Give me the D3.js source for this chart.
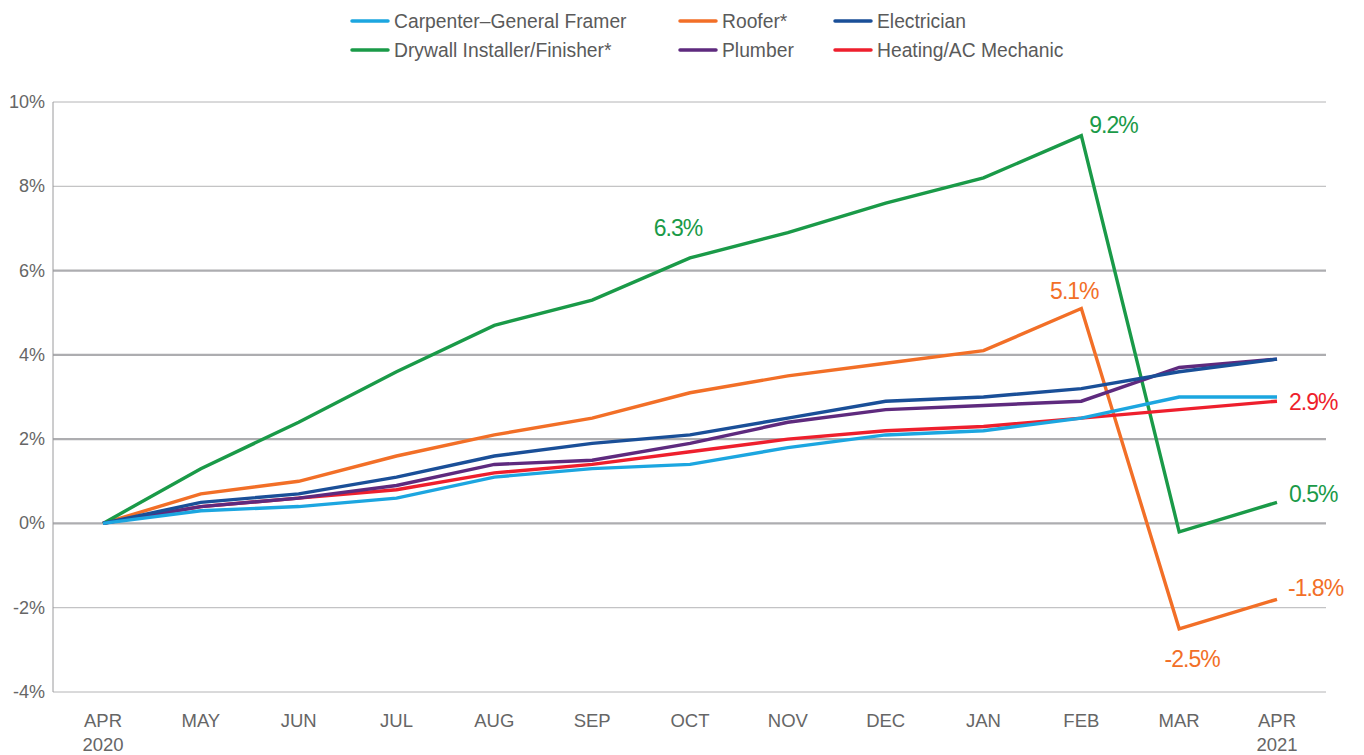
<!DOCTYPE html>
<html>
<head>
<meta charset="utf-8">
<script src="https://cdn.jsdelivr.net/npm/d3@7"></script>
<style>
  body { margin: 0; background: #fff; }
  text { font-family: "Liberation Sans", Arial, sans-serif; }
</style>
</head>
<body>
<script>
const months = ['APR', 'MAY', 'JUN', 'JUL', 'AUG', 'SEP', 'OCT', 'NOV', 'DEC', 'JAN', 'FEB', 'MAR', 'APR2'];
const monthLabels = ['APR', 'MAY', 'JUN', 'JUL', 'AUG', 'SEP', 'OCT', 'NOV', 'DEC', 'JAN', 'FEB', 'MAR', 'APR'];
const yearLabels = { 0: '2020', 12: '2021' };
const yTicks = [-4, -2, 0, 2, 4, 6, 8, 10];

const carpenter = [0, 0.3, 0.4, 0.6, 1.1, 1.3, 1.4, 1.8, 2.1, 2.2, 2.5, 3.0, 3.0];
const roofer = [0, 0.7, 1.0, 1.6, 2.1, 2.5, 3.1, 3.5, 3.8, 4.1, 5.1, -2.5, -1.8];
const electrician = [0, 0.5, 0.7, 1.1, 1.6, 1.9, 2.1, 2.5, 2.9, 3.0, 3.2, 3.6, 3.9];
const drywall = [0, 1.3, 2.4, 3.6, 4.7, 5.3, 6.3, 6.9, 7.6, 8.2, 9.2, -0.2, 0.5];
const plumber = [0, 0.4, 0.6, 0.9, 1.4, 1.5, 1.9, 2.4, 2.7, 2.8, 2.9, 3.7, 3.9];
const heating = [0, 0.4, 0.6, 0.8, 1.2, 1.4, 1.7, 2.0, 2.2, 2.3, 2.5, 2.7, 2.9];

const series = [
  { name: 'Carpenter–General Framer', values: carpenter, color: '#1ca6e0' },
  { name: 'Roofer*', values: roofer, color: '#f26f27' },
  { name: 'Electrician', values: electrician, color: '#1a4f98' },
  { name: 'Drywall Installer/Finisher*', values: drywall, color: '#1a9a48' },
  { name: 'Plumber', values: plumber, color: '#5e2a7e' },
  { name: 'Heating/AC Mechanic', values: heating, color: '#ee1f2d' }
];

// draw order (bottom to top)
const drawOrder = ['Roofer*', 'Drywall Installer/Finisher*', 'Heating/AC Mechanic', 'Plumber', 'Electrician', 'Carpenter–General Framer'];

const annotations = [
  { s: 'Drywall Installer/Finisher*', i: 6, text: '6.3%', dx: -12, dy: -22, anchor: 'middle' },
  { s: 'Drywall Installer/Finisher*', i: 10, text: '9.2%', dx: 8, dy: -3, anchor: 'start' },
  { s: 'Drywall Installer/Finisher*', i: 12, text: '0.5%', dx: 12, dy: 0, anchor: 'start' },
  { s: 'Roofer*', i: 10, text: '5.1%', dx: -7, dy: -10, anchor: 'middle' },
  { s: 'Roofer*', i: 11, text: '-2.5%', dx: 13, dy: 38, anchor: 'middle' },
  { s: 'Roofer*', i: 12, text: '-1.8%', dx: 11, dy: -3, anchor: 'start' },
  { s: 'Heating/AC Mechanic', i: 12, text: '2.9%', dx: 12, dy: 9, anchor: 'start' }
];

const W = 1364, H = 755;
const plot = { left: 53, right: 1326, top: 102, bottom: 692 };

const svg = d3.select('body').append('svg')
  .attr('width', W)
  .attr('height', H);

const x = d3.scalePoint()
  .domain(months)
  .range([103, 1277]);

const y = d3.scaleLinear()
  .domain([-4, 10])
  .range([plot.bottom, plot.top]);

// gridlines
svg.append('g')
  .selectAll('line')
  .data(yTicks)
  .enter()
  .append('line')
  .attr('x1', plot.left)
  .attr('x2', plot.right)
  .attr('y1', d => y(d))
  .attr('y2', d => y(d))
  .attr('stroke', d => (d >= 0 && d <= 6) ? '#adadb0' : '#b4b4b6')
  .attr('stroke-width', d => (d >= 0 && d <= 6) ? 2.2 : 1);

// y axis line
svg.append('line')
  .attr('x1', plot.left).attr('x2', plot.left)
  .attr('y1', plot.top).attr('y2', plot.bottom)
  .attr('stroke', '#9a9a9c')
  .attr('stroke-width', 1);

// y tick labels
svg.append('g')
  .selectAll('text')
  .data(yTicks)
  .enter()
  .append('text')
  .attr('x', 45)
  .attr('y', d => y(d) + 6)
  .attr('text-anchor', 'end')
  .attr('fill', '#666')
  .style('font-size', '18px')
  .text(d => d + '%');

// x tick labels
const xl = svg.append('g');
months.forEach((m, i) => {
  xl.append('text')
    .attr('x', x(m))
    .attr('y', 727)
    .attr('text-anchor', 'middle')
    .attr('fill', '#666')
    .style('font-size', '18.5px')
    .text(monthLabels[i]);
  if (yearLabels[i]) {
    xl.append('text')
      .attr('x', x(m))
      .attr('y', 751)
      .attr('text-anchor', 'middle')
      .attr('fill', '#666')
      .style('font-size', '18.5px')
      .text(yearLabels[i]);
  }
});

const line = d3.line()
  .x((d, i) => x(months[i]))
  .y(d => y(d));

const byName = {};
series.forEach(s => { byName[s.name] = s; });

svg.append('g')
  .selectAll('path')
  .data(drawOrder.map(n => byName[n]))
  .enter()
  .append('path')
  .attr('fill', 'none')
  .attr('stroke', d => d.color)
  .attr('stroke-width', 3.4)
  .attr('stroke-linejoin', 'miter')
  .attr('d', d => line(d.values));

// annotations
svg.append('g')
  .selectAll('text')
  .data(annotations)
  .enter()
  .append('text')
  .attr('x', d => x(months[d.i]) + d.dx)
  .attr('y', d => y(byName[d.s].values[d.i]) + d.dy)
  .attr('text-anchor', d => d.anchor)
  .attr('fill', d => byName[d.s].color)
  .style('font-size', '23px')
  .style('letter-spacing', '-1px')
  .text(d => d.text);

// legend
const legendCols = [352, 680, 835];
const legendRows = [21, 50];
const legend = svg.append('g').attr('class', 'legend');
series.forEach((s, k) => {
  const cx = legendCols[k % 3];
  const cy = legendRows[Math.floor(k / 3)];
  legend.append('line')
    .attr('x1', cx).attr('x2', cx + 36)
    .attr('y1', cy).attr('y2', cy)
    .attr('stroke', s.color)
    .attr('stroke-width', 3.5)
    .attr('stroke-linecap', 'round');
  legend.append('text')
    .attr('x', cx + 42)
    .attr('y', cy + 7)
    .attr('fill', '#5a5a5a')
    .style('font-size', '19.3px')
    .text(s.name);
});
</script>
</body>
</html>
